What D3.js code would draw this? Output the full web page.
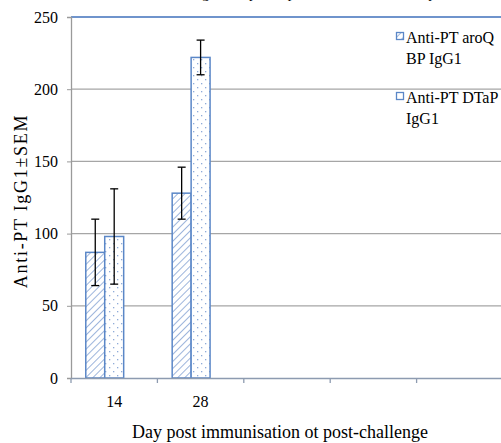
<!DOCTYPE html>
<html>
<head>
<meta charset="utf-8">
<script src="https://cdn.jsdelivr.net/npm/d3@7"></script>
<style>
  body { margin: 0; background: #fff; }
</style>
</head>
<body>
<svg id="chart"></svg>
<script>
// categories on the x axis (three unused slots at the right)
const days = ["14", "28", "c3", "c4", "c5"];
const dayLabels = ["14", "28", "", "", ""];

// series
const seriesNames = ["Anti-PT aroQ BP IgG1", "Anti-PT DTaP IgG1"];
const aroqMean = [87, 128];
const aroqSem = [23, 18];
const dtapMean = [98, 222];
const dtapSem = [33, 12];

const yTicks = [0, 50, 100, 150, 200, 250];

const FONT = "'Liberation Serif', Tinos, 'Times New Roman', 'DejaVu Serif', serif";

const config = {
    width: 501,
    height: 443,
    margin: { top: 17, right: -2, bottom: 65, left: 71 }
};

const svg = d3.select("#chart")
    .attr("width", config.width)
    .attr("height", config.height);

const width = config.width - config.margin.left - config.margin.right;
const height = config.height - config.margin.top - config.margin.bottom;

const defs = svg.append("defs");

// diagonal hatch for the aroQ bars
const hatch = defs.append("pattern")
    .attr("id", "hatch")
    .attr("patternUnits", "userSpaceOnUse")
    .attr("width", 5)
    .attr("height", 5)
    .attr("patternTransform", "rotate(45)");
hatch.append("rect").attr("width", 5).attr("height", 5).attr("fill", "#fff");
hatch.append("line")
    .attr("x1", 0).attr("y1", 0).attr("x2", 0).attr("y2", 5)
    .attr("stroke", "#9db5dc").attr("stroke-width", 2);

// sparse dot grid for the DTaP bars
const dots = defs.append("pattern")
    .attr("id", "dots")
    .attr("patternUnits", "userSpaceOnUse")
    .attr("width", 8)
    .attr("height", 8);
dots.append("rect").attr("width", 8).attr("height", 8).attr("fill", "#fff");
dots.append("rect").attr("x", 2).attr("y", 2).attr("width", 1.3).attr("height", 1.3).attr("fill", "#8fabd8");
dots.append("rect").attr("x", 6).attr("y", 6).attr("width", 1.3).attr("height", 1.3).attr("fill", "#8fabd8");

const chart = svg.append("g")
    .attr("transform", `translate(${config.margin.left},${config.margin.top})`);

const xScale = d3.scaleBand()
    .domain(days)
    .range([0, width]);

// three slots per group, the third one stays empty
const xSub = d3.scaleBand()
    .domain([0, 1, 2])
    .range([0, xScale.bandwidth()])
    .paddingOuter(0.78);

const yScale = d3.scaleLinear()
    .domain([0, 250])
    .range([height, 0]);

// gridlines
chart.append("g")
    .selectAll("line")
    .data(yTicks.filter(d => d > 0))
    .join("line")
    .attr("x1", 0)
    .attr("x2", width)
    .attr("y1", d => yScale(d))
    .attr("y2", d => yScale(d))
    .attr("stroke", d => d === 250 ? "#6f94cc" : "#a6a6a6")
    .attr("stroke-width", d => d === 250 ? 2 : 1.3);

// y axis
const yAxisG = chart.append("g")
    .call(d3.axisLeft(yScale).tickValues(yTicks).tickSize(4).tickPadding(9));
yAxisG.attr("font-family", null);
yAxisG.select(".domain").attr("stroke", "#9a9a9a").attr("stroke-width", 1.3);
yAxisG.selectAll(".tick line").attr("stroke", "#9a9a9a");
yAxisG.selectAll(".tick text")
    .style("font-family", FONT)
    .style("font-size", "16px")
    .attr("fill", "#000");

// bars
const bars = [
    { key: 0, mean: aroqMean, sem: aroqSem, fill: "url(#hatch)" },
    { key: 1, mean: dtapMean, sem: dtapSem, fill: "url(#dots)" }
];

bars.forEach(s => {
    const g = chart.append("g");
    g.selectAll("rect")
        .data(s.mean)
        .join("rect")
        .attr("x", (d, i) => xScale(days[i]) + xSub(s.key))
        .attr("y", d => yScale(d))
        .attr("width", xSub.bandwidth())
        .attr("height", d => yScale(0) - yScale(d))
        .attr("fill", s.fill)
        .attr("stroke", "#5b87c7")
        .attr("stroke-width", 1.5);

    // error bars
    const eb = g.selectAll(".err")
        .data(s.mean.map((m, i) => ({ m, e: s.sem[i], i })))
        .join("g")
        .attr("class", "err")
        .attr("transform", d => `translate(${xScale(days[d.i]) + xSub(s.key) + xSub.bandwidth() / 2},0)`);
    eb.append("line")
        .attr("y1", d => yScale(d.m + d.e))
        .attr("y2", d => yScale(d.m - d.e))
        .attr("stroke", "#000").attr("stroke-width", 1.3);
    eb.append("line")
        .attr("x1", -4).attr("x2", 4)
        .attr("y1", d => yScale(d.m + d.e)).attr("y2", d => yScale(d.m + d.e))
        .attr("stroke", "#000").attr("stroke-width", 1.3);
    eb.append("line")
        .attr("x1", -4).attr("x2", 4)
        .attr("y1", d => yScale(d.m - d.e)).attr("y2", d => yScale(d.m - d.e))
        .attr("stroke", "#000").attr("stroke-width", 1.3);
});

// x axis
const xAxisG = chart.append("g")
    .attr("transform", `translate(0,${height})`)
    .call(d3.axisBottom(xScale).tickSize(0).tickFormat((d, i) => dayLabels[i]).tickPadding(18));
xAxisG.attr("font-family", null);
xAxisG.select(".domain").attr("stroke", "#8d9bb0").attr("stroke-width", 1.5);
xAxisG.selectAll(".tick text")
    .style("font-family", FONT)
    .style("font-size", "16px")
    .attr("fill", "#000");

// category separators on the x axis
chart.append("g")
    .selectAll("line")
    .data(days)
    .join("line")
    .attr("x1", d => xScale(d))
    .attr("x2", d => xScale(d))
    .attr("y1", height)
    .attr("y2", height + 5)
    .attr("stroke", "#8d9bb0")
    .attr("stroke-width", 1.3);

// axis titles
svg.append("text")
    .attr("x", 280)
    .attr("y", 438)
    .attr("text-anchor", "middle")
    .style("font-family", FONT)
    .style("font-size", "18px")
    .text("Day post immunisation ot post-challenge");

svg.append("text")
    .attr("transform", "translate(27,201) rotate(-90)")
    .attr("text-anchor", "middle")
    .style("font-family", FONT)
    .style("font-size", "18px")
    .style("letter-spacing", "1.7px")
    .text("Anti-PT IgG1±SEM");

// chart title, cut off at the top of the picture as in the source
svg.append("text")
    .attr("x", 330)
    .attr("y", -2)
    .attr("text-anchor", "middle")
    .style("font-family", FONT)
    .style("font-size", "15px")
    .text("Anti-PT IgG1 response post immunisation and post-challenge");

// legend
const legendLines = [["Anti-PT aroQ", "BP IgG1"], ["Anti-PT DTaP", "IgG1"]];
const legend = svg.append("g").attr("transform", "translate(396,30)");
legendLines.forEach((lines, i) => {
    const lg = legend.append("g").attr("transform", `translate(0,${i * 60})`);
    lg.append("rect")
        .attr("x", 0.5).attr("y", 2.5)
        .attr("width", 7).attr("height", 7)
        .attr("fill", i === 0 ? "url(#hatch)" : "#fff")
        .attr("stroke", "#5b87c7").attr("stroke-width", 1.3);
    lg.selectAll("text")
        .data(lines)
        .join("text")
        .attr("x", 10)
        .attr("y", (d, j) => 13 + j * 21)
        .style("font-family", FONT)
        .style("font-size", "16px")
        .text(d => d);
});
</script>
</body>
</html>
